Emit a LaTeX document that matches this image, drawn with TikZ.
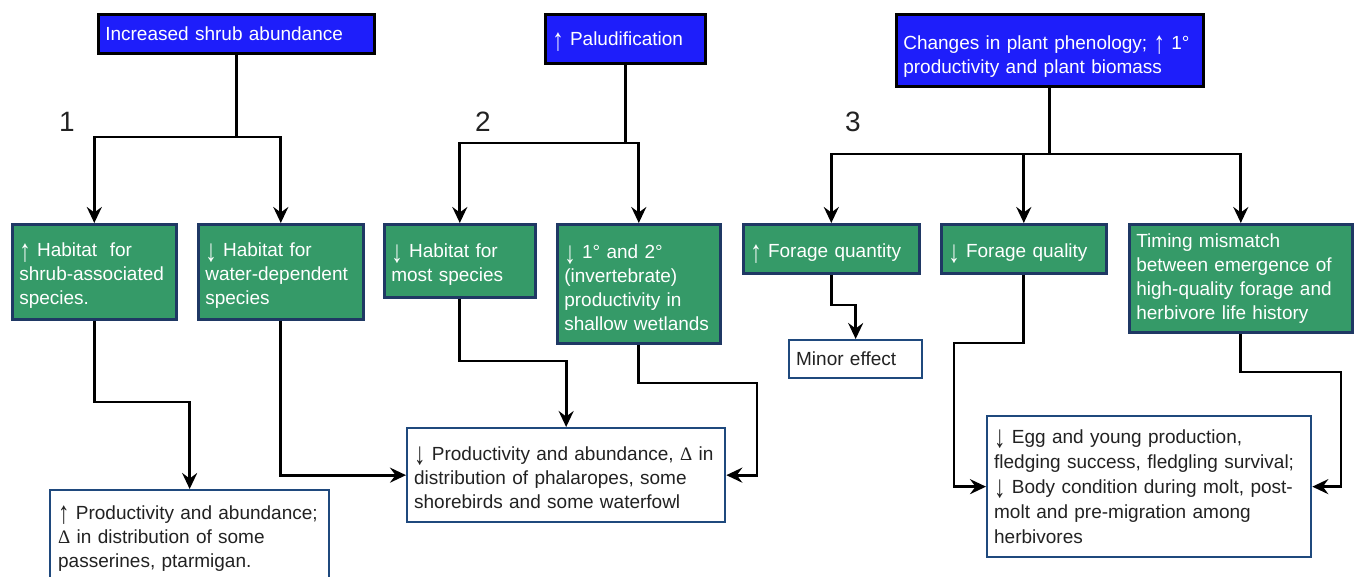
\documentclass[tikz,border=0pt]{standalone}
\usepackage{fontspec}
\usepackage{graphicx}
\setmainfont{Liberation Sans}
\newfontfamily\symfont{Liberation Serif}
\usetikzlibrary{arrows.meta}
\definecolor{topblue}{RGB}{30,30,250}
\definecolor{boxgreen}{RGB}{53,154,104}
\definecolor{navy}{RGB}{31,56,100}
\definecolor{edgeblue}{RGB}{31,73,125}
\definecolor{inktext}{RGB}{34,34,34}
% tall, thin arrows used inside the box texts
\newcommand{\arrUp}{\smash{\raisebox{-4.5pt}{\scalebox{1.2}[1.65]{↑}}}}
\newcommand{\arrDn}{\smash{\raisebox{-4.5pt}{\scalebox{1.2}[1.65]{↓}}}}
\newcommand{\dlt}{{\symfont Δ}}

\begin{document}
\begin{tikzpicture}[x=1pt,y=-1pt,
  basebox/.style={rectangle, anchor=north west, align=left, inner xsep=7pt, inner ysep=2pt,
    font=\fontsize{19}{24}\selectfont, line width=2.6pt},
  lower/.style={execute at begin node={\rule{0pt}{#1}}},
  driver/.style={basebox, fill=topblue, draw=black, text=white},
  effect/.style={basebox, fill=boxgreen, draw=navy, text=white},
  outcome/.style={basebox, fill=white, draw=edgeblue, text=inktext, line width=2.3pt},
  link/.style={line width=2.9pt, line join=miter, draw=black},
  arr/.style={link, -{Stealth[length=16pt,width=15pt,inset=5.5pt]}},
  tag/.style={font=\fontsize{28}{30}\selectfont, text=inktext}]
\path[use as bounding box, clip] (0,0) rectangle (1356,576);

% drivers
\node[driver, text width=262pt, minimum height=39pt] (b1) at (97,13) {Increased shrub abundance};
\node[driver, text width=146pt, minimum height=49pt] (b2) at (544,13) {\arrUp{} Paludification};
\node[driver, lower=26pt, text width=293pt, minimum height=72pt] (b3) at (895,13) {Changes in plant phenology; \arrUp{} 1°\\productivity and plant biomass};

% pathway numbers
\node[tag] (n1) at (67,122) {1};
\node[tag] (n2) at (483,122) {2};
\node[tag] (n3) at (853,122) {3};

% habitat / forage effects
\node[effect, lower=22pt, text width=150pt, minimum height=95pt] (g1) at (11,223) {\arrUp{} Habitat\ \ for\\shrub-associated\\species.};
\node[effect, lower=22pt, text width=151pt, minimum height=95pt] (g2) at (197,223) {\arrDn{} Habitat for\\water-dependent\\species};
\node[effect, lower=22pt, text width=137pt, minimum height=73pt] (g3) at (383,223) {\arrDn{} Habitat for\\most species};
\node[effect, lower=22pt, text width=149pt, minimum height=119pt] (g4) at (556,223) {\arrDn{} 1° and 2°\\(invertebrate)\\productivity in\\shallow wetlands};
\node[effect, lower=22pt, text width=162pt, minimum height=49pt] (g5) at (742,223) {\arrUp{} Forage quantity};
\node[effect, lower=22pt, text width=151pt, minimum height=49pt] (g6) at (940,223) {\arrDn{} Forage quality};
\node[effect, text width=209pt, minimum height=108pt] (g7) at (1128,223) {Timing mismatch\\between emergence of\\high-quality forage and\\herbivore life history};

% outcomes
\node[outcome, text width=119pt, minimum height=38pt] (minor) at (788,339) {Minor effect};
\node[outcome, text width=263pt, minimum height=96pt, inner xsep=8pt] (w1) at (49,489) {\arrUp{} Productivity and abundance;\\\dlt{} in distribution of some\\passerines, ptarmigan.};
\node[outcome, lower=18pt, text width=304pt, minimum height=94pt] (w2) at (406,427) {\arrDn{} Productivity and abundance, \dlt{} in\\distribution of phalaropes, some\\shorebirds and some waterfowl};
\node[outcome, text width=310pt, minimum height=141pt, font=\fontsize{19}{25}\selectfont] (w3) at (986,415) {\arrDn{} Egg and young production,\\fledging success, fledgling survival;\\\arrDn{} Body condition during molt, post-\\molt and pre-migration among\\herbivores};

% branching from the drivers
\coordinate (j1) at (b1.south |- 0,137);
\coordinate (j2) at (b2.south |- 0,143);
\coordinate (j3) at (b3.south |- 0,154);
\draw[link] (b1.south) -- (j1);
\draw[arr] (j1) -| (g1.north);
\draw[arr] (j1) -| (g2.north);
\draw[link] (b2.south) -- (j2);
\draw[arr] (j2) -| (g3.north);
\draw[arr] (j2) -| (g4.north);
\draw[link] (b3.south) -- (j3);
\draw[arr] (j3) -| (g5.north);
\draw[arr] (j3) -| (g6.north);
\draw[arr] (j3) -| (g7.north);

% effects to outcomes
\coordinate (k1) at (g1.south |- 0,402);
\coordinate (k3) at (g3.south |- 0,361);
\coordinate (k4) at (757,383);
\coordinate (k5) at (g5.south |- 0,305);
\coordinate (k6) at (954,343);
\coordinate (k7) at (1341,372);
\draw[arr] (g1.south) -- (k1) -| (w1.north);
\draw[arr] (g2.south) |- (w2.west);
\draw[arr] (g3.south) -- (k3) -| (w2.north);
\draw[arr] (g4.south) |- (k4) |- (w2.east);
\draw[arr] (g5.south) -- (k5) -| (minor.north);
\draw[arr] (g6.south) |- (k6) |- (w3.west);
\draw[arr] (g7.south) |- (k7) |- (w3.east);
\end{tikzpicture}
\end{document}
